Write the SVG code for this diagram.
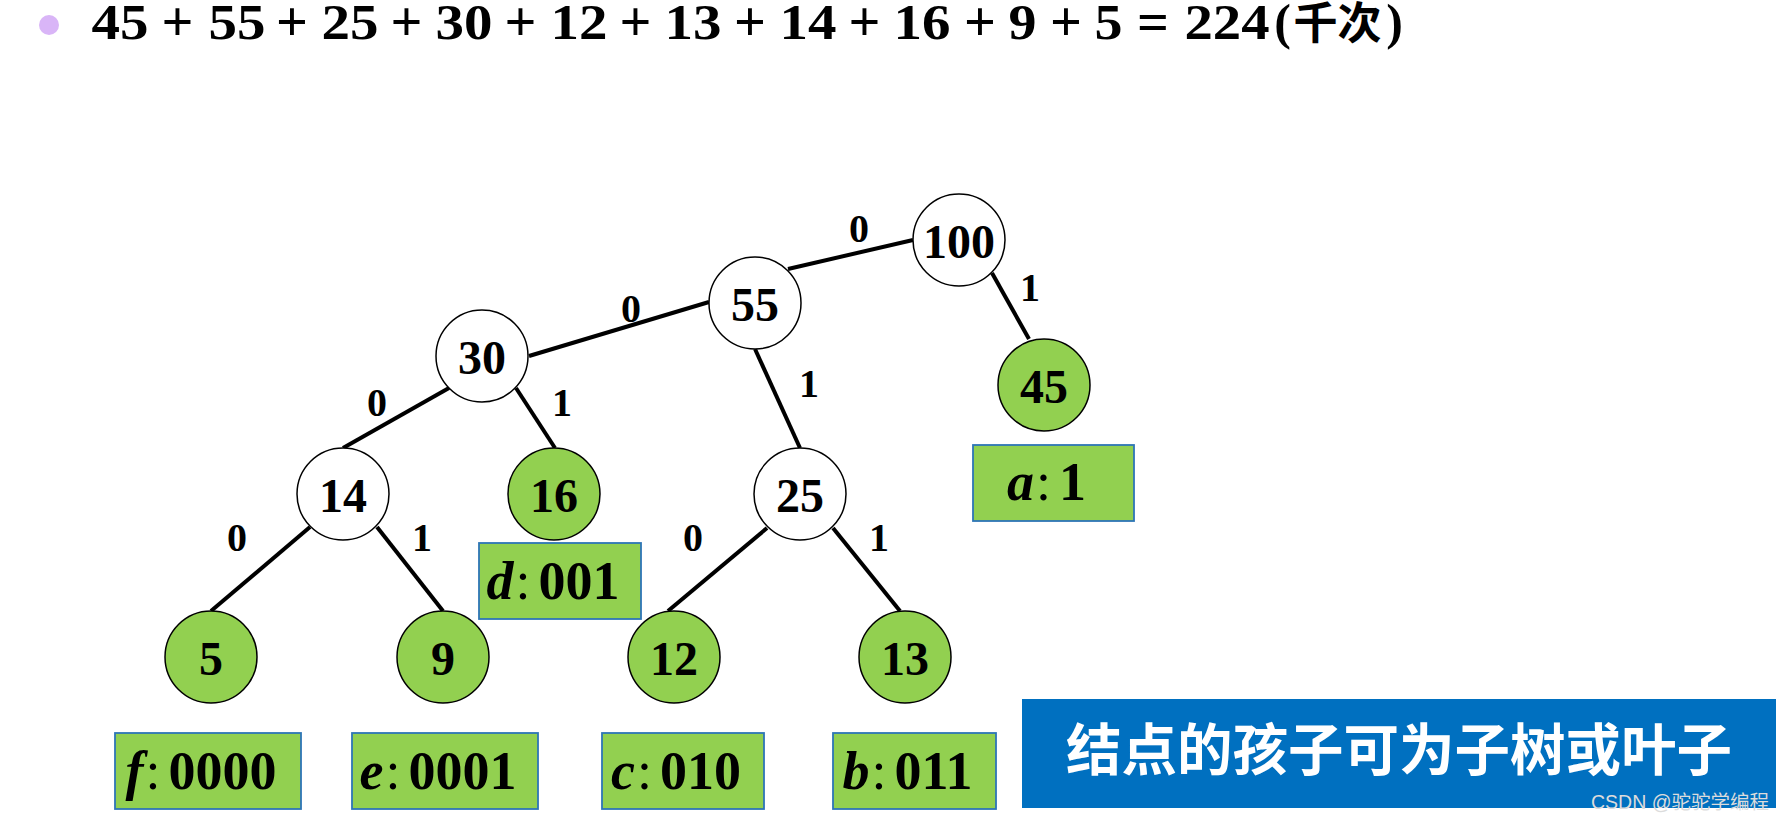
<svg xmlns="http://www.w3.org/2000/svg" width="1786" height="821" viewBox="0 0 1786 821">
<style>
.title{font-family:"Liberation Serif","Noto Sans CJK SC",serif;font-weight:bold;font-size:50px;fill:#000;text-anchor:middle}
.op{font-family:"Liberation Serif",serif;font-weight:bold;font-size:56px;fill:#000;text-anchor:middle}
.cjk{font-family:"Noto Sans CJK SC",sans-serif;font-weight:bold;font-size:44px;fill:#000;text-anchor:middle}
.edge{stroke:#000;stroke-width:4;fill:none}
.elab{font-family:"Liberation Serif",serif;font-weight:bold;font-size:40px;fill:#000;text-anchor:middle}
.inner{fill:#fff;stroke:#000;stroke-width:1.5}
.leaf{fill:#92D050;stroke:#000;stroke-width:1.5}
.num{font-family:"Liberation Serif",serif;font-weight:bold;font-size:48px;fill:#000;text-anchor:middle}
.box{fill:#92D050;stroke:#2E75B6;stroke-width:1.8}
.code{font-family:"Liberation Serif",serif;font-weight:bold;font-size:54px;fill:#000;text-anchor:middle}
.it{font-style:italic}
.col{font-weight:normal}
</style>

<g id="title">
  <ellipse cx="49" cy="25" rx="10" ry="10" fill="#D9B5F7"/>
  <text class="title" x="120" y="39" textLength="57" lengthAdjust="spacingAndGlyphs">45</text>
  <text class="op" x="177.5" y="41">+</text>
  <text class="title" x="237" y="39" textLength="57" lengthAdjust="spacingAndGlyphs">55</text>
  <text class="op" x="292" y="41">+</text>
  <text class="title" x="350" y="39" textLength="57" lengthAdjust="spacingAndGlyphs">25</text>
  <text class="op" x="406.5" y="41">+</text>
  <text class="title" x="464" y="39" textLength="57" lengthAdjust="spacingAndGlyphs">30</text>
  <text class="op" x="520.5" y="41">+</text>
  <text class="title" x="579" y="39" textLength="57" lengthAdjust="spacingAndGlyphs">12</text>
  <text class="op" x="635.5" y="41">+</text>
  <text class="title" x="693" y="39" textLength="57" lengthAdjust="spacingAndGlyphs">13</text>
  <text class="op" x="750" y="41">+</text>
  <text class="title" x="808" y="39" textLength="57" lengthAdjust="spacingAndGlyphs">14</text>
  <text class="op" x="864.5" y="41">+</text>
  <text class="title" x="922" y="39" textLength="57" lengthAdjust="spacingAndGlyphs">16</text>
  <text class="op" x="980" y="41">+</text>
  <text class="title" x="1022.5" y="39" textLength="28" lengthAdjust="spacingAndGlyphs">9</text>
  <text class="op" x="1066" y="41">+</text>
  <text class="title" x="1108.5" y="39" textLength="28" lengthAdjust="spacingAndGlyphs">5</text>
  <text class="op" x="1153" y="41">=</text>
  <text class="title" x="1227" y="39" textLength="85" lengthAdjust="spacingAndGlyphs">224</text>
  <text class="title" x="1282.5" y="39">(</text>
  <text class="cjk" x="1337.5" y="39">千次</text>
  <text class="title" x="1394.5" y="39">)</text>
</g>

<g id="connectors">
  <line class="edge" x1="913" y1="240" x2="788" y2="269"/>
  <line class="edge" x1="992" y1="273" x2="1029" y2="339"/>
  <line class="edge" x1="709" y1="302" x2="529" y2="356"/>
  <line class="edge" x1="755" y1="349" x2="800" y2="448"/>
  <line class="edge" x1="449" y1="388" x2="343" y2="448"/>
  <line class="edge" x1="516" y1="388" x2="555" y2="448"/>
  <line class="edge" x1="310" y1="527" x2="211" y2="611"/>
  <line class="edge" x1="377" y1="527" x2="443" y2="611"/>
  <line class="edge" x1="767" y1="528" x2="668" y2="611"/>
  <line class="edge" x1="833" y1="528" x2="900" y2="611"/>
  <text class="elab" x="859" y="242">0</text>
  <text class="elab" x="1030" y="301">1</text>
  <text class="elab" x="631" y="322">0</text>
  <text class="elab" x="809" y="397">1</text>
  <text class="elab" x="377" y="416">0</text>
  <text class="elab" x="562" y="416">1</text>
  <text class="elab" x="237" y="551">0</text>
  <text class="elab" x="422" y="551">1</text>
  <text class="elab" x="693" y="551">0</text>
  <text class="elab" x="879" y="551">1</text>
</g>

<g id="n100"><circle class="inner" cx="959" cy="240" r="46"/><text class="num" x="959" y="257.5">100</text></g>
<g id="n55"><circle class="inner" cx="755" cy="303" r="46"/><text class="num" x="755" y="320.5">55</text></g>
<g id="n30"><circle class="inner" cx="482" cy="356" r="46"/><text class="num" x="482" y="373.5">30</text></g>
<g id="n45"><circle class="leaf" cx="1044" cy="385" r="46"/><text class="num" x="1044" y="402.5">45</text></g>
<g id="n14"><circle class="inner" cx="343" cy="494" r="46"/><text class="num" x="343" y="511.5">14</text></g>
<g id="n16"><circle class="leaf" cx="554" cy="494" r="46"/><text class="num" x="554" y="511.5">16</text></g>
<g id="n25"><circle class="inner" cx="800" cy="494" r="46"/><text class="num" x="800" y="511.5">25</text></g>
<g id="n5"><circle class="leaf" cx="211" cy="657" r="46"/><text class="num" x="211" y="674.5">5</text></g>
<g id="n9"><circle class="leaf" cx="443" cy="657" r="46"/><text class="num" x="443" y="674.5">9</text></g>
<g id="n12"><circle class="leaf" cx="674" cy="657" r="46"/><text class="num" x="674" y="674.5">12</text></g>
<g id="n13"><circle class="leaf" cx="905" cy="657" r="46"/><text class="num" x="905" y="674.5">13</text></g>

<g id="code-a"><rect class="box" x="973" y="445" width="161" height="76"/><text class="code" x="1046.5" y="500"><tspan class="it">a</tspan><tspan class="col" dx="2">:</tspan><tspan dx="8">1</tspan></text></g>
<g id="code-d"><rect class="box" x="479" y="543" width="162" height="76"/><text class="code" x="553" y="599"><tspan class="it">d</tspan><tspan class="col" dx="2">:</tspan><tspan dx="8">001</tspan></text></g>
<g id="code-f"><rect class="box" x="115" y="733" width="186" height="76"/><text class="code" x="201" y="789"><tspan class="it">f</tspan><tspan class="col" dx="2">:</tspan><tspan dx="8">0000</tspan></text></g>
<g id="code-e"><rect class="box" x="352" y="733" width="186" height="76"/><text class="code" x="438" y="789"><tspan class="it">e</tspan><tspan class="col" dx="2">:</tspan><tspan dx="8">0001</tspan></text></g>
<g id="code-c"><rect class="box" x="602" y="733" width="162" height="76"/><text class="code" x="676" y="789"><tspan class="it">c</tspan><tspan class="col" dx="2">:</tspan><tspan dx="8">010</tspan></text></g>
<g id="code-b"><rect class="box" x="833" y="733" width="163" height="76"/><text class="code" x="907.5" y="789"><tspan class="it">b</tspan><tspan class="col" dx="2">:</tspan><tspan dx="8">011</tspan></text></g>

<g id="banner">
  <rect x="1022" y="699" width="754" height="109" fill="#0070C0"/>
  <text x="1399" y="770" font-family="'Noto Sans CJK SC',sans-serif" font-weight="bold" font-size="55.5" fill="#fff" text-anchor="middle">结点的孩子可为子树或叶子</text>
  <text x="1769" y="809" font-family="'Liberation Sans','Noto Sans CJK SC',sans-serif" font-size="19.5" fill="#dcdcdc" text-anchor="end">CSDN @驼驼学编程</text>
</g>
</svg>
